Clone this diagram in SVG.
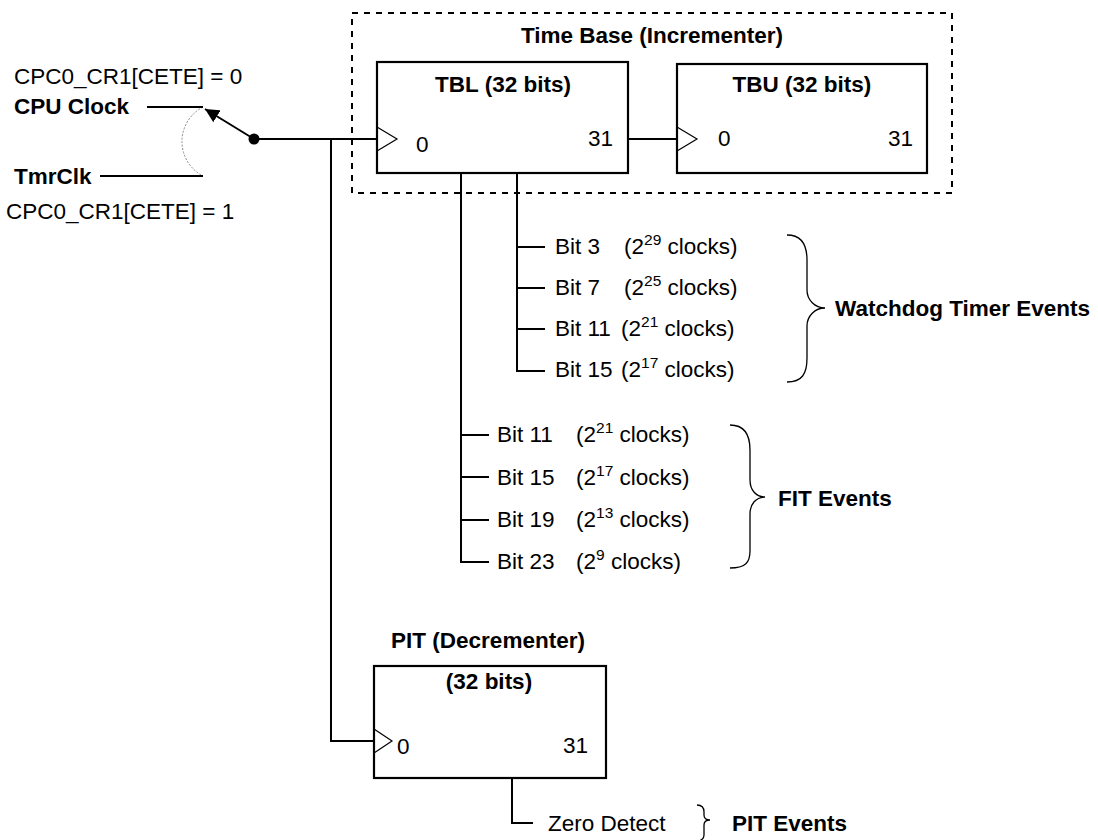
<svg xmlns="http://www.w3.org/2000/svg" width="1098" height="840" viewBox="0 0 1098 840">
<style>
text{font-family:"Liberation Sans",Arial,sans-serif;font-size:22.5px;fill:#000}
.b{font-weight:bold}
.sup{font-size:15.5px}
.box{fill:none;stroke:#000;stroke-width:2.2}
.ln{fill:none;stroke:#000;stroke-width:2}
.clk{fill:none;stroke:#000;stroke-width:1.2}
.dash{fill:none;stroke:#000;stroke-width:2;stroke-dasharray:6 6}
.brace{fill:none;stroke:#000;stroke-width:1.3}
</style>
<defs>
<marker id="ah" viewBox="0 0 10 10" refX="10" refY="5" markerWidth="14" markerHeight="14" markerUnits="userSpaceOnUse" orient="auto"><path d="M0,0 L10,5 L0,10 z" fill="#000"/></marker>
</defs>
<g id="timebase">
<rect class="dash" x="352" y="13" width="600" height="180"/>
<text class="b" x="652" y="43" text-anchor="middle">Time Base (Incrementer)</text>
</g>
<g id="tbl">
<rect class="box" x="377" y="62" width="251" height="111"/>
<path class="clk" d="M377,127 L397,139 L377,151"/>
<text class="b" x="503" y="92" text-anchor="middle">TBL (32 bits)</text>
<text x="416" y="152">0</text>
<text x="613" y="146" text-anchor="end">31</text>
</g>
<g id="tbu">
<rect class="box" x="677" y="64" width="250" height="109"/>
<path class="clk" d="M677,127 L697,139 L677,151"/>
<text class="b" x="802" y="92" text-anchor="middle">TBU (32 bits)</text>
<text x="718" y="146">0</text>
<text x="913" y="146" text-anchor="end">31</text>
</g>
<g id="pit">
<text class="b" x="488" y="648" text-anchor="middle">PIT (Decrementer)</text>
<rect class="box" x="374" y="666" width="232" height="112"/>
<path class="clk" d="M374,729 L392,741 L374,753"/>
<text class="b" x="489" y="689" text-anchor="middle">(32 bits)</text>
<text x="397" y="754">0</text>
<text x="588" y="753" text-anchor="end">31</text>
</g>
<g id="clock-select">
<text x="14" y="84">CPC0_CR1[CETE] = 0</text>
<text class="b" x="14" y="114">CPU Clock</text>
<text class="b" x="14" y="184">TmrClk</text>
<text x="6" y="219">CPC0_CR1[CETE] = 1</text>
<path d="M203,107 A38.8,38.8 0 0 0 203,176" fill="none" stroke="#888" stroke-width="1" stroke-dasharray="2 1.5"/>
<circle cx="254" cy="139" r="5.5" fill="#000"/>
</g>
<g id="watchdog">
<text x="555" y="254">Bit 3</text>
<text x="624" y="254">(2<tspan class="sup" dy="-9">29</tspan><tspan dy="9"> clocks)</tspan></text>
<text x="555" y="295">Bit 7</text>
<text x="624" y="295">(2<tspan class="sup" dy="-9">25</tspan><tspan dy="9"> clocks)</tspan></text>
<text x="555" y="336">Bit 11</text>
<text x="621" y="336">(2<tspan class="sup" dy="-9">21</tspan><tspan dy="9"> clocks)</tspan></text>
<text x="555" y="377">Bit 15</text>
<text x="621" y="377">(2<tspan class="sup" dy="-9">17</tspan><tspan dy="9"> clocks)</tspan></text>
<path class="brace" d="M787,235 C802,235 807,245 807,260 L807,290 C807,300 815,308 825,308 C815,308 807,316 807,326 L807,358 C807,374 802,382 787,382"/>
<text class="b" x="835" y="316">Watchdog Timer Events</text>
</g>
<g id="fit">
<text x="497" y="442">Bit 11</text>
<text x="576" y="442">(2<tspan class="sup" dy="-9">21</tspan><tspan dy="9"> clocks)</tspan></text>
<text x="497" y="485">Bit 15</text>
<text x="576" y="485">(2<tspan class="sup" dy="-9">17</tspan><tspan dy="9"> clocks)</tspan></text>
<text x="497" y="527">Bit 19</text>
<text x="576" y="527">(2<tspan class="sup" dy="-9">13</tspan><tspan dy="9"> clocks)</tspan></text>
<text x="497" y="569">Bit 23</text>
<text x="576" y="569">(2<tspan class="sup" dy="-9">9</tspan><tspan dy="9"> clocks)</tspan></text>
<path class="brace" d="M730,425 C745,425 750,435 750,450 L750,480 C750,490 756,497 765,497 C756,497 750,504 750,514 L750,551 C750,563 745,568 730,568"/>
<text class="b" x="778" y="506">FIT Events</text>
</g>
<g id="pit-events">
<text x="548" y="831">Zero Detect</text>
<path class="brace" d="M697,805 C702,805 704,808 704,812 L704,815 C704,818 706,820 710,820 C706,820 704,822 704,825 L704,835 C704,839 702,840 699,841"/>
<text class="b" x="732" y="831">PIT Events</text>
</g>
<g id="connectors">
<path class="ln" d="M147,107 H203"/>
<path class="ln" d="M100,176 H203"/>
<path class="ln" d="M254,139 L205,109" marker-end="url(#ah)"/>
<path class="ln" d="M254,139 H377"/>
<path class="ln" d="M628,139 H677"/>
<path class="ln" d="M331,139 V741 H374"/>
<path class="ln" d="M517,173 V371 H545"/>
<path class="ln" d="M517,247 H545 M517,288 H545 M517,329 H545"/>
<path class="ln" d="M461,173 V562 H489"/>
<path class="ln" d="M461,435 H489 M461,477 H489 M461,520 H489"/>
<path class="ln" d="M512,778 V823 H533"/>
</g>
</svg>
